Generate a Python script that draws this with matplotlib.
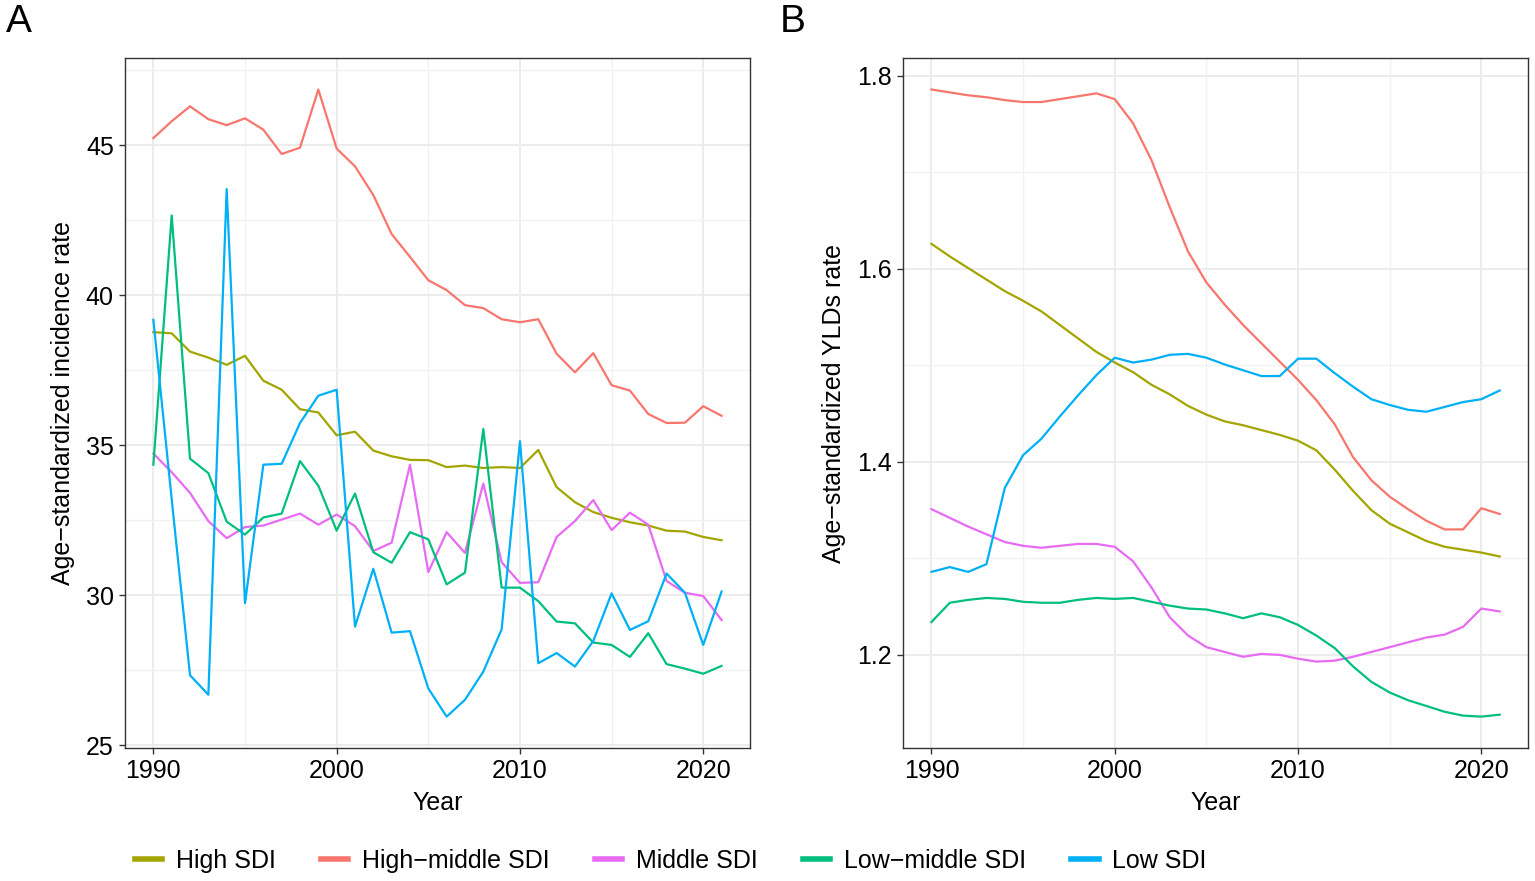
import numpy as np
import matplotlib
matplotlib.use('Agg')
import matplotlib.pyplot as plt
from matplotlib.ticker import MultipleLocator

plt.rcParams['font.family'] = ['Liberation Sans', 'DejaVu Sans']

years = list(range(1990, 2022))
groups = ['High SDI', 'High−middle SDI', 'Middle SDI', 'Low−middle SDI', 'Low SDI']
colors = ['#A3A500', '#F8766D', '#E76BF3', '#00BF7D', '#00B0F6']

# panel A: age-standardized incidence rate
inc_high = [38.77, 38.73, 38.12, 37.92, 37.68, 37.98, 37.15, 36.85, 36.2, 36.09,
            35.33, 35.45, 34.82, 34.63, 34.51, 34.5, 34.27, 34.32, 34.24, 34.27,
            34.24, 34.84, 33.6, 33.1, 32.77, 32.58, 32.43, 32.32, 32.15, 32.12,
            31.94, 31.83]
inc_highmid = [45.24, 45.8, 46.3, 45.87, 45.67, 45.9, 45.52, 44.71, 44.92, 46.86,
               44.89, 44.3, 43.34, 42.04, 41.28, 40.5, 40.17, 39.67, 39.57, 39.2,
               39.1, 39.2, 38.05, 37.43, 38.07, 37.0, 36.82, 36.04, 35.74, 35.75,
               36.3, 35.98]
inc_mid = [34.72, 34.1, 33.41, 32.47, 31.9, 32.27, 32.32, 32.52, 32.72, 32.35,
           32.69, 32.3, 31.47, 31.75, 34.35, 30.77, 32.1, 31.41, 33.72, 31.1,
           30.41, 30.43, 31.94, 32.47, 33.17, 32.17, 32.75, 32.35, 30.47, 30.08,
           29.97, 29.17]
inc_lowmid = [34.35, 42.66, 34.55, 34.07, 32.45, 32.02, 32.59, 32.72, 34.47, 33.65,
              32.15, 33.39, 31.43, 31.08, 32.1, 31.86, 30.36, 30.75, 35.54, 30.25,
              30.25, 29.8, 29.12, 29.06, 28.42, 28.34, 27.94, 28.73, 27.7, 27.55,
              27.38, 27.64]
inc_low = [39.18, 33.2, 27.33, 26.68, 43.54, 29.73, 34.35, 34.38, 35.74, 36.65,
           36.85, 28.95, 30.88, 28.75, 28.8, 26.89, 25.95, 26.51, 27.45, 28.86,
           35.13, 27.73, 28.07, 27.62, 28.47, 30.06, 28.84, 29.13, 30.72, 30.08,
           28.34, 30.12]

# panel B: age-standardized YLDs rate
yld_high = [1.626, 1.613, 1.601, 1.589, 1.577, 1.567, 1.556, 1.542, 1.528, 1.514,
            1.503, 1.493, 1.480, 1.470, 1.458, 1.449, 1.442, 1.438, 1.433, 1.428,
            1.422, 1.412, 1.392, 1.370, 1.350, 1.336, 1.327, 1.318, 1.312, 1.309,
            1.306, 1.302]
yld_highmid = [1.786, 1.783, 1.780, 1.778, 1.775, 1.773, 1.773, 1.776, 1.779, 1.782,
               1.776, 1.751, 1.713, 1.664, 1.618, 1.586, 1.563, 1.542, 1.523, 1.504,
               1.485, 1.464, 1.439, 1.405, 1.381, 1.364, 1.351, 1.339, 1.330, 1.330,
               1.352, 1.346]
yld_mid = [1.351, 1.342, 1.333, 1.325, 1.317, 1.313, 1.311, 1.313, 1.315, 1.315,
           1.312, 1.297, 1.270, 1.239, 1.220, 1.208, 1.203, 1.198, 1.201, 1.200,
           1.196, 1.193, 1.194, 1.198, 1.203, 1.208, 1.213, 1.218, 1.221, 1.229,
           1.248, 1.245]
yld_lowmid = [1.234, 1.254, 1.257, 1.259, 1.258, 1.255, 1.254, 1.254, 1.257, 1.259,
              1.258, 1.259, 1.255, 1.251, 1.248, 1.247, 1.243, 1.238, 1.243, 1.239,
              1.231, 1.220, 1.207, 1.188, 1.172, 1.161, 1.153, 1.147, 1.141, 1.137,
              1.136, 1.138]
yld_low = [1.286, 1.291, 1.286, 1.294, 1.373, 1.407, 1.424, 1.447, 1.469, 1.490,
           1.508, 1.503, 1.506, 1.511, 1.512, 1.508, 1.501, 1.495, 1.489, 1.489,
           1.507, 1.507, 1.492, 1.478, 1.465, 1.459, 1.454, 1.452, 1.457, 1.462,
           1.465, 1.474]

inc_series = [inc_high, inc_highmid, inc_mid, inc_lowmid, inc_low]
yld_series = [yld_high, yld_highmid, yld_mid, yld_lowmid, yld_low]

FS = 18
fig = plt.figure(figsize=(15.35, 8.81), dpi=100)
axA = fig.add_axes([0.0814, 0.151, 0.4072, 0.783])
axB = fig.add_axes([0.5883, 0.151, 0.4072, 0.783])


def style_axes(ax, major_y, minor_y):
    ax.set_facecolor('white')
    ax.xaxis.set_major_locator(MultipleLocator(10))
    ax.xaxis.set_minor_locator(MultipleLocator(5))
    ax.yaxis.set_major_locator(MultipleLocator(major_y))
    ax.yaxis.set_minor_locator(MultipleLocator(minor_y))
    ax.grid(which='major', color='#EBEBEB', lw=1.3)
    ax.grid(which='minor', color='#F2F2F2', lw=1.0)
    ax.set_axisbelow(True)
    for sp in ax.spines.values():
        sp.set_color('#333333')
        sp.set_linewidth(1.0)
    ax.tick_params(which='major', length=4, width=1, color='#333333',
                   labelsize=FS, labelcolor='black', pad=4)
    ax.tick_params(which='minor', length=0)
    ax.margins(x=0.05, y=0.05)


handles = []
for vals, name, c in zip(inc_series, groups, colors):
    h, = axA.plot(years, vals, color=c, lw=1.6, label=name)
    handles.append(h)
for vals, c in zip(yld_series, colors):
    axB.plot(years, vals, color=c, lw=1.6)

style_axes(axA, 5, 2.5)
style_axes(axB, 0.2, 0.1)
axB.yaxis.set_major_formatter(matplotlib.ticker.FormatStrFormatter('%.1f'))

axA.set_xlabel('Year', fontsize=FS, labelpad=6)
axB.set_xlabel('Year', fontsize=FS, labelpad=6)
axA.set_ylabel('Age−standardized incidence rate', fontsize=FS, labelpad=8)
axB.set_ylabel('Age−standardized YLDs rate', fontsize=FS, labelpad=8)

fig.text(0.004, 0.995, 'A', fontsize=28, va='top', ha='left')
fig.text(0.508, 0.995, 'B', fontsize=28, va='top', ha='left')

leg = fig.legend(handles=handles, loc='center', bbox_to_anchor=(0.437, 0.023),
                 ncol=5, frameon=False, fontsize=FS, handlelength=1.1,
                 handletextpad=0.55, columnspacing=1.8)
for line in leg.get_lines():
    line.set_linewidth(4)

fig.savefig('out.png', dpi=100)
